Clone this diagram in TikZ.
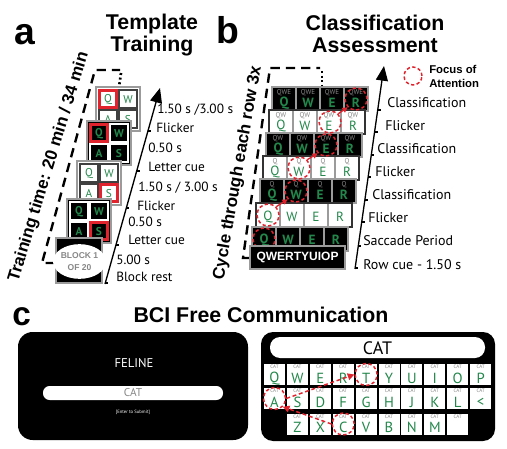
\documentclass[tikz,border=0pt]{standalone}
\usepackage{fontspec}
\setmainfont{PT Sans}
\newfontfamily\hfont{Liberation Sans}
\usetikzlibrary{arrows.meta,shapes.geometric}
\definecolor{kgreen}{RGB}{35,135,75}
\definecolor{kred}{RGB}{225,35,45}
\definecolor{kgrey}{RGB}{155,155,155}
\definecolor{ltext}{RGB}{135,135,135}
% card of panel a: name, x, y, bg, cell line colour, highlight corner, letter style
\newcommand\acard[7]{%
  \begin{scope}[shift={(#2,#3)}]
    \draw[draw=kgrey, line width=2pt, fill=#4] (0,0) rectangle (44,44);
    \foreach \cx/\cy/\L in {3/3/Q,23/3/W,3/23/A,23/23/S}{
      \draw[draw=#5, line width=0.8pt] (\cx,\cy) rectangle ++(18,18);
      \node[alet,#7] (#1\L) at (\cx+9,\cy+9.5) {\L};
    }
    \draw[draw=kred, line width=2pt] (#6) rectangle ++(17,17);
  \end{scope}}
% row of panel b: name, x, y, bg, border, cell line, small label, letter y, letter style
\newcommand\brow[9]{%
  \begin{scope}[shift={(#2,#3)}]
    \fill[#4] (0,0) rectangle (96,24);
    \foreach \i/\L in {0/Q,1/W,2/E,3/R}{
      \draw[draw=#6, line width=0.8pt] (\i*24,0) rectangle ++(24,24);
      \node[bsm] (#1s\L) at (\i*24+12,5.5) {#7};
      \node[bbig,#9] (#1\L) at (\i*24+12,#8) {\L};
    }
    \draw[draw=#5, line width=1.2pt] (0,0) rectangle (96,24);
  \end{scope}}
\begin{document}
\begin{tikzpicture}[x=0.75pt,y=-0.75pt,
  alab/.style={anchor=west, inner sep=0, font=\fontsize{10}{12}\selectfont},
  blab/.style={anchor=west, inner sep=0, font=\fontsize{10.5}{12}\selectfont},
  ttl/.style={font=\hfont\bfseries\fontsize{16}{19}\selectfont, inner sep=0, anchor=base},
  plab/.style={font=\hfont\bfseries\fontsize{28}{30}\selectfont, inner sep=0, anchor=base west},
  rot/.style={font=\hfont\bfseries\fontsize{12.75}{14}\selectfont, inner sep=0},
  bracket/.style={line width=1.8pt, dash pattern=on 7pt off 4.5pt},
  dotl/.style={line width=2pt, dash pattern=on 1.5pt off 2pt},
  tline/.style={line width=1pt, -{Triangle[length=11pt,width=9pt]}},
  tick/.style={line width=1.3pt},
  alet/.style={inner sep=0, text=kgreen, font=\fontsize{8.5}{10}\selectfont},
  abold/.style={font=\bfseries\fontsize{8.5}{10}\selectfont},
  bsm/.style={inner sep=0, text=ltext, font=\fontsize{5.3}{6}\selectfont},
  bbig/.style={inner sep=0, text=kgreen, font=\fontsize{10}{12}\selectfont},
  bbold/.style={font=\bfseries\fontsize{10}{12}\selectfont},
  focus/.style={circle, draw=kred, line width=1.1pt, dash pattern=on 2.5pt off 1.8pt, minimum size=16.5pt, inner sep=0},
  redarr/.style={draw=kred, line width=1pt, -{Triangle[length=4pt,width=4pt]}},
  keyb/.style={rectangle, fill=white, minimum width=15.75pt, minimum height=15.75pt, inner sep=0},
  kcat/.style={inner sep=0, text=ltext, font=\fontsize{3.8}{4}\selectfont},
  klet/.style={inner sep=0, text=kgreen, font=\fontsize{11}{12}\selectfont},
  kdash/.style={draw=kred, line width=1.1pt, dash pattern=on 3pt off 2pt, -{Triangle[length=5pt,width=5pt]}}
]
\useasboundingbox (0,0) rectangle (507,449);
\fill[white] (0,0) rectangle (507,449);

% ---------------- panel a ----------------
\node[plab] (la) at (14,45) {a};
\node[ttl] (ta1) at (152,30) {Template};
\node[ttl] (ta2) at (152,52) {Training};
\node[rot, rotate=73] (rota) at (49,167) {Training time: 20 min / 34 min};
\draw[bracket] (55,263) -- (42,263) -- (95,70) -- (120,70);
\draw[dotl] (121,73) -- (119,87);

\acard{c1}{96}{87}{white}{black!75}{3.5,3.5}{}
\acard{c2}{87}{121}{black}{white}{3.5,3.5}{abold}
\acard{c3}{77}{161}{white}{black!75}{23.5,23.5}{}
\acard{c4}{67}{199}{black}{white}{23.5,23.5}{abold}
\draw[draw=kgrey, line width=2pt, fill=black] (56,238) rectangle (102,283);
\node[ellipse, fill=white, minimum width=32pt, minimum height=26pt, inner sep=0, align=center,
      text=ltext, font=\hfont\bfseries\fontsize{6.4}{8.5}\selectfont] (blk) at (79.5,261.5) {BLOCK 1\\OF 20};

\coordinate (ta0) at (105,284);
\coordinate (taE) at (160,88);
\draw[tline] (ta0) -- (taE);
\foreach \x/\y in {105/283,115.7/245,126.2/208,136.6/171,147.9/131}
  \draw[tick] (\x,\y) -- ++(3,0);
\node[alab] (a1) at (157,110) {1.50 s /3.00 s};
\node[alab] (a2) at (156,128) {Flicker};
\node[alab] (a3) at (148,148) {0.50 s};
\node[alab] (a4) at (148,167) {Letter cue};
\node[alab] (a5) at (138,188) {1.50 s / 3.00 s};
\node[alab] (a6) at (137,206) {Flicker};
\node[alab] (a7) at (128,222) {0.50 s};
\node[alab] (a8) at (128,240) {Letter cue};
\node[alab] (a9) at (116,260) {5.00 s};
\node[alab] (a10) at (116,277) {Block rest};

% ---------------- panel b ----------------
\node[plab] (lb) at (216,44) {b};
\node[ttl] (tb1) at (375,31) {Classification};
\node[ttl] (tb2) at (375,53) {Assessment};
\node[rot, rotate=80] (rotb) at (238,173) {Cycle through each row 3x};
\draw[bracket] (250,258) -- (243,258) -- (270,68) -- (320,68);
\draw[dotl] (322,71) -- (322,87);

\brow{ra}{272}{87}{black}{kgrey}{kgrey}{QWE}{16}{bbold}
\brow{rb}{269}{110}{white}{black!80}{kgrey}{QW}{16}{}
\brow{rc}{266}{133}{black}{kgrey}{kgrey}{QW}{16}{bbold}
\brow{rd}{263}{156}{white}{black!80}{kgrey}{Q}{16}{}
\brow{re}{260}{179}{black}{kgrey}{kgrey}{Q}{16}{bbold}
\brow{rf}{256}{203}{white}{black!80}{kgrey}{}{14}{}
\brow{rg}{252}{227}{black}{kgrey}{kgrey}{}{13}{bbold}
\node[focus] (fb7) at (264,239) {};
\node[draw=kgrey, line width=1.3pt, fill=black, text=white, minimum width=71pt, minimum height=17pt, inner sep=0,
      font=\hfont\bfseries\fontsize{9}{10}\selectfont] (cue) at (297.5,257.5) {QWERTYUIOP};
\node[focus] (fb1) at (356,99) {};
\node[focus] (fb2) at (330,122) {};
\node[focus] (fb3) at (326,145) {};
\node[focus] (fb4) at (299,168) {};
\node[focus] (fb5) at (296,191) {};
\node[focus] (fb6) at (268,215) {};
\draw[redarr] (fb6.north east) -- (fb5.south west);
\draw[redarr] (fb4.north east) -- (fb3.south west);
\draw[redarr] (fb2.north east) -- (fb1.south west);

\coordinate (tb0) at (355,269);
\coordinate (tbE) at (384,66);
\draw[tline] (tb0) -- (tbE);
\foreach \y in {268,246,222,200,177,155,132,110}
  \draw[tick] ({355+(268-\y)*0.1443},\y) -- ++(3,0);
\node[blab] (b1) at (387,103) {Classification};
\node[blab] (b2) at (385,126) {Flicker};
\node[blab] (b3) at (377,149) {Classification};
\node[blab] (b4) at (375,172) {Flicker};
\node[blab] (b5) at (372,195) {Classification};
\node[blab] (b6) at (368,218) {Flicker};
\node[blab] (b7) at (363,241) {Saccade Period};
\node[blab] (b8) at (363,265) {Row cue - 1.50 s};

\node[focus, minimum size=13.5pt] (leg) at (413,76) {};
\node[anchor=west, inner sep=0, align=left, font=\hfont\bfseries\fontsize{8.5}{10.5}\selectfont] (legt) at (429,76) {Focus of\\Attention};

% ---------------- panel c ----------------
\node[plab, font=\hfont\bfseries\fontsize{25}{27}\selectfont] (lc) at (12,325) {c};
\node[ttl] (tc) at (261,322) {BCI Free Communication};

\fill[black, rounded corners=11pt] (18,332) rectangle (248,440);
\node[text=white, inner sep=0, font=\fontsize{9.5}{11}\selectfont] (fel) at (134,363.5) {FELINE};
\fill[white, rounded corners=5pt] (43,386) rectangle (223,400);
\node[text=ltext, inner sep=0, font=\fontsize{8.5}{10}\selectfont] (ccat) at (133,393) {CAT};
\node[text=white, inner sep=0, font=\fontsize{3.5}{4}\selectfont] (ent) at (133,412) {[Enter to Submit]};

\fill[black, rounded corners=9pt] (261,332) rectangle (495,441);
\fill[white, rounded corners=7.5pt] (270,337) rectangle (485,358);
\node[inner sep=0, font=\fontsize{13.5}{15}\selectfont] (kcatbar) at (377.5,348.5) {CAT};

\foreach \n/\L [count=\i from 0] in {Q/Q,W/W,E/E,R/R,T/T,Y/Y,U/U,I/I,O/O,P/P}{
  \node[keyb] (k\n) at (274.5+22.9*\i,374.5) {};
  \node[kcat] (kc\n) at (274.5+22.9*\i,367) {CAT};
  \node[klet] (kl\n) at (274.5+22.9*\i,378.3) {\L};
}
\foreach \n/\L [count=\i from 0] in {A/A,S/S,D/D,F/F,G/G,H/H,J/J,K/K,L/L,lt/<}{
  \node[keyb] (k\n) at (274.5+22.9*\i,398.5) {};
  \node[kcat] (kc\n) at (274.5+22.9*\i,391) {CAT};
  \node[klet] (kl\n) at (274.5+22.9*\i,402.3) {\L};
}
\foreach \n/\L [count=\i from 1] in {Z/Z,X/X,C/C,V/V,B/B,N/N,M/M}{
  \node[keyb] (k\n) at (274.5+22.9*\i,424) {};
  \node[kcat] (kc\n) at (274.5+22.9*\i,416.5) {CAT};
  \node[klet] (kl\n) at (274.5+22.9*\i,427.8) {\L};
}
\node[keyb] (kblank) at (274.5+22.9*8,424) {};
\node[kcat] (kcblank) at (274.5+22.9*8,416.5) {CAT};

\node[focus] (fT) at (kT) {};
\node[focus] (fA) at (kA) {};
\node[focus] (fC) at (kC) {};
\draw[kdash] (fC.west) -- (fA.south east);
\draw[kdash] (fA.east) -- (fT.west);
\end{tikzpicture}
\end{document}
